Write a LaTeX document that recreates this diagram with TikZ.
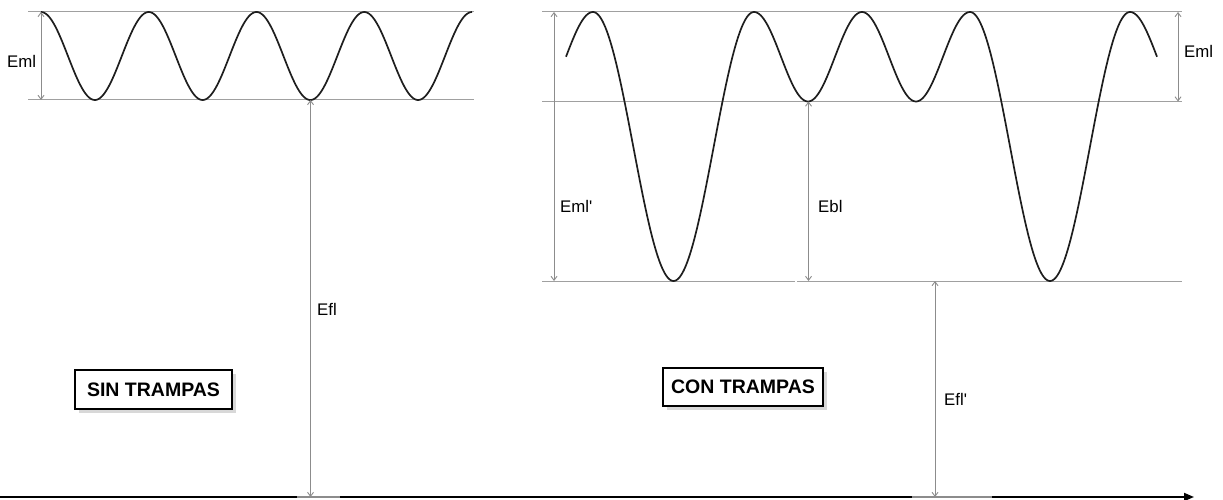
\documentclass[tikz,border=0pt]{standalone}
\usepackage{fontspec}
\setmainfont{Liberation Sans}
\usetikzlibrary{arrows.meta,shadows}
\definecolor{refline}{HTML}{A0A0A0}
\definecolor{dimline}{HTML}{8C8C8C}
\definecolor{curvecol}{HTML}{1E1E1E}
\tikzset{
  refl/.style={refline, line width=1pt},
  dimarrow/.style={dimline, line width=0.9pt, {Straight Barb[length=4pt,width=6pt]}-{Straight Barb[length=4pt,width=6pt]}},
  wave/.style={curvecol, line width=1.7pt, line join=round},
  lbl/.style={inner sep=0pt, font=\fontsize{16.8}{18}\selectfont},
  titlebox/.style={draw=black, line width=2pt, fill=white, inner sep=0pt,
    font=\bfseries\fontsize{19.5}{21}\selectfont,
    drop shadow={shadow xshift=4pt, shadow yshift=-4pt, fill=black!30, opacity=0.5}},
  axisline/.style={black, line width=1.8pt, -{Triangle[length=10pt,width=8pt]}},
}
\begin{document}
\begin{tikzpicture}[x=1pt,y=-1pt]
\useasboundingbox (0,0) rectangle (1223,500);
% ---------- left panel ----------
\draw[refl] (28,12) -- (474,12);
\draw[refl] (28,100) -- (474,100);
\draw[wave] plot[domain=41:472, samples=300, smooth] (\x, {56 - 44*cos((\x-41)/107.75*360)});
\coordinate (LT) at (41,12);
\coordinate (LB) at (41,100);
\draw[dimarrow] (LT) -- (LB);
\node[lbl, anchor=west] (emlL) at (7,61) {Eml};
\coordinate (EflTop) at (310.5,100);
\coordinate (EflBot) at (310.5,497);
\draw[dimarrow] (EflTop) -- (EflBot);
\node[lbl, anchor=west] (efl) at (317,309) {Efl};
\node[titlebox, minimum width=157pt, minimum height=39pt] (sin) at (153.5,389.5) {SIN TRAMPAS};
% ---------- right panel ----------
\draw[refl] (542,12) -- (1182,12);
\draw[refl] (542,101.5) -- (1182,101.5);
\draw[refl] (542,281) -- (795,281);
\draw[refl] (797,281) -- (1182,281);
\draw[wave]
  plot[domain=566:593, samples=30, smooth] (\x, {56.75 - 44.75*cos((\x-593)/54*180)})
  -- plot[domain=593:754, samples=120, smooth] (\x, {146.5 - 134.5*cos((\x-593)/80.5*180)})
  -- plot[domain=754:970, samples=160, smooth] (\x, {56.75 - 44.75*cos((\x-754)/54*180)})
  -- plot[domain=970:1130, samples=120, smooth] (\x, {146.5 - 134.5*cos((\x-970)/80*180)})
  -- plot[domain=1130:1157, samples=30, smooth] (\x, {56.75 - 44.75*cos((\x-1130)/54*180)});
\coordinate (EmlpT) at (554,12);
\coordinate (EmlpB) at (554,281);
\draw[dimarrow] (EmlpT) -- (EmlpB);
\node[lbl, anchor=west] (emlp) at (560,206) {Eml\textquotesingle};
\coordinate (EblT) at (808.5,101.5);
\coordinate (EblB) at (808.5,281);
\draw[dimarrow] (EblT) -- (EblB);
\node[lbl, anchor=west] (ebl) at (818,206) {Ebl};
\coordinate (EmlRT) at (1178,12);
\coordinate (EmlRB) at (1178,101.5);
\draw[dimarrow] (EmlRT) -- (EmlRB);
\node[lbl, anchor=west] (emlR) at (1184,51) {Eml};
\coordinate (EflpT) at (935,281);
\coordinate (EflpB) at (935,497);
\draw[dimarrow] (EflpT) -- (EflpB);
\node[lbl, anchor=west] (eflp) at (944,399) {Efl\textquotesingle};
\node[titlebox, minimum width=160pt, minimum height=38pt] (con) at (743,387) {CON TRAMPAS};
% ---------- axis ----------
\coordinate (A0) at (0,497);
\coordinate (A1) at (1194,497);
\draw[axisline] (A0) -- (A1);
\draw[black!45, line width=1.8pt] (297,497) -- (340,497);
\draw[black!45, line width=1.8pt] (912,497) -- (992,497);
\end{tikzpicture}
\end{document}
